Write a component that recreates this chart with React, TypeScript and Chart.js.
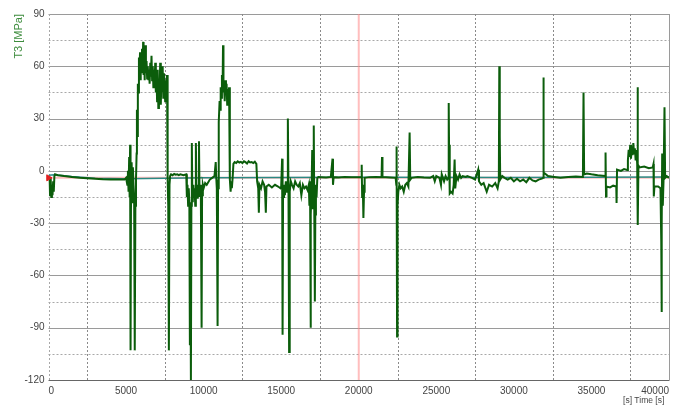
import React, { useEffect, useRef } from 'react';
import { Chart, registerables } from 'chart.js';

Chart.register(...registerables);

// Time axis samples [s]
const timeS: number[] = [
  0, 60, 100, 140, 180, 220, 260, 300, 340, 380, 420, 600, 1000, 1500, 2000, 2500, 3000, 3500, 4000, 4500, 4900,
  5000, 5080, 5120, 5160, 5200, 5230, 5260, 5290, 5320, 5360, 5400, 5440, 5480, 5520, 5560, 5600, 5640, 5680,
  5700, 5730, 5760, 5800, 5830, 5860, 5900, 5930, 5960, 6000, 6030, 6070, 6100, 6130, 6170, 6200, 6240, 6280,
  6320, 6360, 6400, 6440, 6480, 6520, 6560, 6600, 6640, 6680, 6720, 6760, 6800, 6840, 6880, 6920, 6960, 7000,
  7040, 7080, 7120, 7160, 7200, 7240, 7280, 7320, 7360, 7400, 7440, 7480, 7520, 7560, 7600, 7640,
  7680, 7720, 7760, 7800, 7840, 7900, 8000, 8100, 8200, 8300, 8400, 8500, 8700, 8880,
  8920, 8960, 9000, 9040, 9080, 9115, 9140, 9180, 9210, 9240, 9270, 9300, 9340, 9380, 9420, 9460, 9500, 9540,
  9580, 9620, 9660, 9700, 9740, 9780, 9820, 9870, 9900, 9950, 10000, 10100, 10200, 10400, 10550, 10700,
  10780, 10820, 10850, 10900, 10930, 10960, 10990, 11030, 11060, 11100, 11140, 11180, 11220, 11250, 11280,
  11320, 11360, 11400, 11440, 11480, 11520, 11560, 11600, 11640, 11680,
  11700, 11740, 11780, 11820, 11870, 11920, 12000, 12100, 12200, 12300, 12400, 12500, 12600, 12700, 12800,
  12900, 13000, 13100, 13200, 13300, 13400,
  13450, 13520, 13560, 13600, 13700, 13800, 13900, 13960, 14010, 14050, 14200, 14400, 14600, 14800, 14950,
  15000, 15060, 15090, 15120, 15180, 15240, 15300, 15380, 15430, 15470, 15510, 15550, 15620, 15700, 15800,
  15900, 16000, 16100, 16200, 16300, 16400, 16500, 16600, 16700,
  16780, 16820, 16860, 16890, 16920, 16960, 17000, 17030, 17060, 17100, 17130, 17170, 17200, 17240, 17280,
  17330, 17400, 17600, 17900, 18200, 18310, 18340, 18380, 18700, 19100, 19500, 20000,
  20150, 20190, 20220, 20260, 20300, 20340, 20380, 20700, 21100, 21470, 21500, 21530, 22000, 22380, 22420,
  22440, 22470, 22500, 22550, 22620, 22700, 22800, 22900, 23000, 23100, 23200, 23280, 23320, 23400, 23800,
  24200, 24600, 24800, 24900, 25000, 25200, 25300, 25350, 25500, 25600, 25700,
  25780, 25800, 25820, 25850, 25880, 25950, 26050, 26120, 26180, 26220, 26300, 26400, 26500, 26600, 26700,
  26900, 27000, 27300, 27500, 27700, 27750, 27900, 28050, 28250, 28400, 28600, 28800, 28950, 29030, 29060,
  29090, 29120, 29250, 29400, 29600, 29800, 30000, 30200, 30400, 30600, 30800, 31000, 31200, 31400, 31600,
  31800, 31880, 31900, 31930, 32000, 32200, 32600, 33000, 33500, 34000, 34450, 34490, 34530, 34700, 35000,
  35400, 35880, 35910, 35940, 35970, 36200, 36400, 36600, 36620, 36650, 36900, 37100, 37300, 37350, 37400,
  37450, 37500, 37550, 37600, 37650, 37700, 37750, 37800, 37850, 37900, 37950, 37970, 38000, 38030, 38100,
  38400, 38700, 38950, 39000, 39020, 39060, 39300, 39450, 39500, 39520, 39540, 39560, 39600, 39650, 39710,
  39750, 39850, 40000,
];

// T3 stress [MPa]
const t3Values: number[] = [
  -3, -6, -14, -4, -15, -8, -14, -6, -12, -3, -2, -2.5, -3, -3.5, -4, -4.2, -4.5, -4.8, -5, -5, -5,
  -4, -8, 0, -12, 8, -15, 15, -103, -10, 5, -18, 2, -8, -14, -103, -20, -5, 10,
  35, 20, 50, 45, 65, 55, 68, 52, 62, 56, 70, 58, 74, 55, 66, 52, 72, 56,
  63, 53, 60, 52, 58, 50, 62, 54, 66, 52, 60, 48, 58, 50, 62, 45, 56, 40,
  58, 36, 52, 44, 62, 38, 55, 46, 60, 42, 56, 50, 40, 52, 48, 55,
  -5, -20, -103, -8, -3, -2, -2.5, -1.8, -2.2, -2, -2.5, -2, -2.5, -2,
  -15, -8, -20, -10, -18, -100, -25, -120, -20, 16, -12, -18, -8, -15, -10, -20, 16, -12,
  -8, -16, -10, 17, -15, -8, -12, -90, -14, -8, -10, -7, -8, -5, -4, -3,
  5, -5, -10, -89, -10, 20, 28, 40, 35, 48, 42, 55, 45, 72, 50,
  48, 40, 52, 44, 50, 38, 47, 42, 48, 40,
  -5, -12, -6, -10, -4, 4, 5, 4.5, 5.5, 4.8, 5.2, 4.5, 5.5, 5, 4.2,
  5.5, 4.8, 5, 4.5, 5.2, 4,
  -6, -10, -24, -8, -10, -6, -8, -12, -24, -9, -8, -9.5, -8, -9, -10,
  -9, 7, -94, -15, -8, -14, -6, -12, 30, -10, -104, -12, -6, -8, -10,
  -6, -8, -9, -7, -14, -8, -10, -9, -11,
  -8, -20, -6, -90, -25, -10, 12, -22, -8, 26, -18, -75, -25, -8, -15,
  -4, -3.5, -3.6, -3.8, -3.5, 7, -8, -3.6, -3.8, -3.5, -3.7, -3.6,
  -3.5, 3.5, -15, -8, -27, -12, -4, -3.6, -3.5, -3.6, 8, -3.5, -3.8, -4, -8,
  14, -95, -20, -12, -8, -10, -9, -12, -8, -7, -9, 22, -5, -4, -3.5,
  -3.8, -4, -3, -6, -3, -4, -8, -2, -6, -3, -5,
  -4, 39, 15, -4, -13, -12, -13, -8, 6.5, -10, -3, -5, -2, -4, -3,
  -3.5, -3, -4, -5, 0.7, -6, -8, -7, -12, -8, -9, -7, -10, -6, 60,
  20, -5, -3, -4, -5, -4, -6, -4.5, -6, -5, -6.5, -4, -5.5, -6, -5,
  -4.5, -4, 53.5, -1, -1.5, -3, -3.5, -4, -3.5, -3.2, -3.5, 45, -2, -1.5, -2,
  -2.5, -3, 10.5, -14.7, -9, -9.5, -8.5, -9, -18.5, 0.7, 0, 1, 0.5, 6, 12,
  8, 15, 7, 14, 9, 16, 10, 13, 6, 12, 4, 48, -31, 3, 2,
  2.5, 1.5, 2, 4, -14.7, -9, -9, -10, -40, -81, -30, 10, -20, -5, 36.5,
  -4, -3, -4,
];

// Reference (teal) trace
const refTime: number[] = [0, 400, 1500, 3000, 5000, 10000, 20000, 30000, 40000];
const refValues: number[] = [-2.5, -2.2, -3.2, -4.2, -4.5, -4, -3.6, -3.8, -3.5];

// Cursor
const cursorTime = 20000;
const cursorLevel = -4;

// Axes
const xMin = 0;
const xMax = 40000;
const xStep = 2500;
const xLabelStep = 5000;
const yMin = -120;
const yMax = 90;
const yStep = 15;
const yLabelStep = 30;

const yTitle = 'T3 [MPa]';
const xTitle = '[s] Time [s]  ';

const fontFamily = '"Liberation Sans", Arial, sans-serif';

const gridPlugin = {
  id: 'customGrid',
  beforeDatasetsDraw(chart: any) {
    const { ctx, chartArea } = chart;
    const xs = chart.scales.x;
    const ys = chart.scales.y;
    const { left, right, top, bottom } = chartArea;
    ctx.save();
    ctx.lineWidth = 1;
    // horizontal lines
    ys.ticks.forEach((t: any) => {
      const v = t.value;
      if (v === yMin) return;
      const py = Math.round(ys.getPixelForValue(v)) + 0.5;
      ctx.beginPath();
      if (v % yLabelStep === 0) {
        ctx.setLineDash([]);
        ctx.strokeStyle = '#9a9a9a';
      } else {
        ctx.setLineDash([2, 2]);
        ctx.strokeStyle = '#a8a8a8';
      }
      ctx.moveTo(left, py);
      ctx.lineTo(right, py);
      ctx.stroke();
    });
    // vertical lines
    xs.ticks.forEach((t: any) => {
      const v = t.value;
      const px = Math.round(xs.getPixelForValue(v)) + 0.5;
      if (v === xMax) {
        ctx.setLineDash([]);
        ctx.strokeStyle = '#9a9a9a';
      } else if (v === xMin) {
        ctx.setLineDash([2, 2]);
        ctx.strokeStyle = '#a8a8a8';
      } else if (v % xLabelStep === 0) {
        return;
      } else {
        ctx.setLineDash([2, 2]);
        ctx.strokeStyle = '#8a8a8a';
      }
      ctx.beginPath();
      ctx.moveTo(px, top);
      ctx.lineTo(px, bottom);
      ctx.stroke();
    });
    // bottom axis
    ctx.setLineDash([]);
    ctx.strokeStyle = '#666';
    const by = Math.round(bottom) + 0.5;
    ctx.beginPath();
    ctx.moveTo(left, by);
    ctx.lineTo(right + 0.5, by);
    ctx.stroke();
    ctx.restore();
  },
};

export default function App() {
  const ref = useRef<HTMLCanvasElement>(null);

  useEffect(() => {
    document.body.style.margin = '0';
    const canvas = ref.current!;
    const chart = new Chart(canvas, {
      type: 'line',
      plugins: [gridPlugin],
      data: {
        datasets: [
          {
            label: 'marker',
            data: [{ x: xMin, y: cursorLevel }],
            showLine: false,
            pointStyle: 'triangle',
            rotation: 90,
            pointRadius: 3.5,
            backgroundColor: '#e02020',
            borderColor: '#e02020',
            clip: false,
            order: 0,
          } as any,
          {
            label: 'T3',
            data: timeS.map((t, i) => ({ x: t, y: t3Values[i] })),
            borderColor: '#0b5d0b',
            borderWidth: 2,
            pointRadius: 0,
            tension: 0,
            order: 1,
          },
          {
            label: 'ref',
            data: refTime.map((t, i) => ({ x: t, y: refValues[i] })),
            borderColor: '#2a8a84',
            borderWidth: 1.5,
            pointRadius: 0,
            order: 2,
          },
          {
            label: 'cursorH',
            data: [
              { x: xMin, y: cursorLevel },
              { x: xMax, y: cursorLevel },
            ],
            borderColor: 'rgba(255,110,110,0.45)',
            borderWidth: 2,
            pointRadius: 0,
            order: 3,
          },
          {
            label: 'cursorV',
            data: [
              { x: cursorTime, y: yMin },
              { x: cursorTime, y: yMax },
            ],
            borderColor: 'rgba(255,110,110,0.45)',
            borderWidth: 2,
            pointRadius: 0,
            order: 3,
          },
        ],
      },
      options: {
        animation: false,
        responsive: false,
        layout: { padding: { top: 14, right: 25, left: 0, bottom: 0 } },
        plugins: { legend: { display: false }, tooltip: { enabled: false } },
        scales: {
          x: {
            type: 'linear',
            min: xMin,
            max: xMax,
            ticks: {
              stepSize: xStep,
              autoSkip: false,
              maxRotation: 0,
              align: 'inner',
              padding: 5,
              color: '#444',
              font: { family: fontFamily, size: 10 },
              callback: (v: any) => (Number(v) % xLabelStep === 0 ? String(v) : ''),
            },
            grid: { display: false, drawTicks: false },
            border: { display: false },
            title: {
              display: true,
              text: xTitle,
              align: 'end',
              color: '#444',
              font: { family: fontFamily, size: 8.5 },
              padding: { top: 0, bottom: -1 },
            },
            afterFit: (s: any) => {
              s.height = 25;
            },
          },
          y: {
            type: 'linear',
            min: yMin,
            max: yMax,
            ticks: {
              stepSize: yStep,
              autoSkip: false,
              padding: 4,
              color: '#444',
              font: { family: fontFamily, size: 10 },
              callback: (v: any) => (Number(v) % yLabelStep === 0 ? String(v) : ''),
            },
            grid: { display: false, drawTicks: false },
            border: { display: false },
            title: {
              display: true,
              text: yTitle,
              align: 'end',
              color: '#3d8c3d',
              font: { family: fontFamily, size: 11 },
              padding: { top: 12, bottom: 0 },
            },
            afterFit: (s: any) => {
              s.width = 48.5;
            },
          },
        },
      },
    });
    return () => chart.destroy();
  }, []);

  return (
    <div style={{ width: 694, height: 405, background: '#fff' }}>
      <canvas ref={ref} width={694} height={405} style={{ display: 'block' }} />
    </div>
  );
}
